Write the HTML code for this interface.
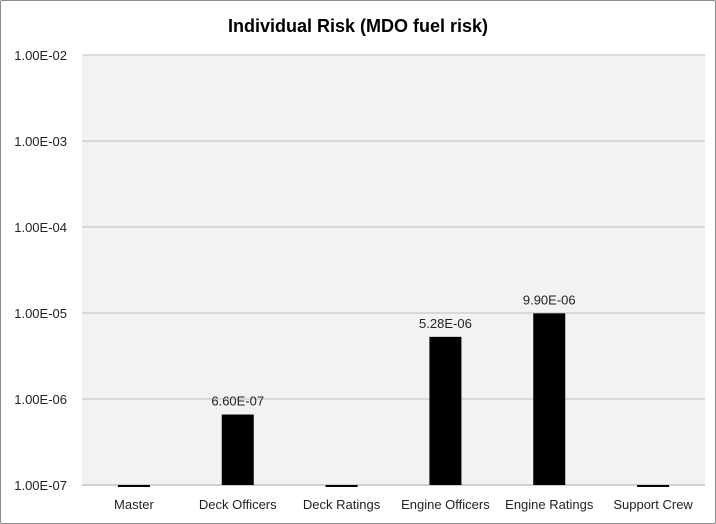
<!DOCTYPE html>
<html><head><meta charset="utf-8"><style>
body{margin:0;background:#fff;font-family:"Liberation Sans",sans-serif;}
#wrap{position:relative;width:716px;height:524px;box-sizing:border-box;border:1px solid #8c8c8c;border-radius:2px;background:#fff}
</style></head><body>
<div id="wrap">
<svg id="chart" width="716" height="524" style="position:absolute;left:-1px;top:-1px">
<text x="358" y="32" text-anchor="middle" font-size="18" font-weight="bold" fill="#000">Individual Risk (MDO fuel risk)</text>
<rect x="82" y="55" width="623" height="430" fill="#f2f2f2"/>
<g id="grid"></g><g id="bars"></g>
</svg>
</div>
<script>
const categories=["Master","Deck Officers","Deck Ratings","Engine Officers","Engine Ratings","Support Crew"];
const values=[1e-7,6.6e-7,1e-7,5.28e-6,9.9e-6,1e-7];
const valueLabels=["","6.60E-07","","5.28E-06","9.90E-06",""];
const tickExps=[-7,-6,-5,-4,-3,-2];
const tickLabels=["1.00E-07","1.00E-06","1.00E-05","1.00E-04","1.00E-03","1.00E-02"];
const NS="http://www.w3.org/2000/svg";
const x0=82,x1=705,yTop=55,yBot=485,minE=-7,maxE=-2;
function yScale(v){return yBot-(Math.log10(v)-minE)/(maxE-minE)*(yBot-yTop);}
const band=(x1-x0)/categories.length;
function xCenter(i){return x0+band*(i+0.5);}
const grid=document.getElementById('grid'),bars=document.getElementById('bars');
tickExps.forEach((e,i)=>{
 const y=yScale(Math.pow(10,e));
 const l=document.createElementNS(NS,'line');
 l.setAttribute('x1',x0);l.setAttribute('x2',x1);l.setAttribute('y1',y);l.setAttribute('y2',y);
 l.setAttribute('stroke',i==0?'#d0d0d0':'#bfbfbf');l.setAttribute('stroke-width',i==0?2:1);
 
 
 grid.appendChild(l);
 const t=document.createElementNS(NS,'text');
 t.setAttribute('x',67);t.setAttribute('y',y+5);t.setAttribute('text-anchor','end');t.setAttribute('font-size','13');t.setAttribute('fill','#222');
 t.textContent=tickLabels[i];
 
 
 grid.appendChild(t);
});
categories.forEach((c,i)=>{
 const cx=xCenter(i),w=32;
 let y=yScale(values[i]);
 let h=yBot-y;
 const r=document.createElementNS(NS,'rect');
 if(h<2){y=yBot;h=2;}
 r.setAttribute('x',cx-w/2);r.setAttribute('y',y);r.setAttribute('width',w);r.setAttribute('height',h);r.setAttribute('fill','#000');
 
 
 bars.appendChild(r);
 if(valueLabels[i]){
  const t=document.createElementNS(NS,'text');
  t.setAttribute('x',cx);t.setAttribute('y',y-9);t.setAttribute('text-anchor','middle');t.setAttribute('font-size','13');t.setAttribute('fill','#222');
  t.textContent=valueLabels[i];
  
  
  bars.appendChild(t);
 }
 const xl=document.createElementNS(NS,'text');
 xl.setAttribute('x',cx);xl.setAttribute('y',509);xl.setAttribute('text-anchor','middle');xl.setAttribute('font-size','13');xl.setAttribute('fill','#222');
 xl.textContent=c;
 
 
 bars.appendChild(xl);
});
</script>
</body></html>
